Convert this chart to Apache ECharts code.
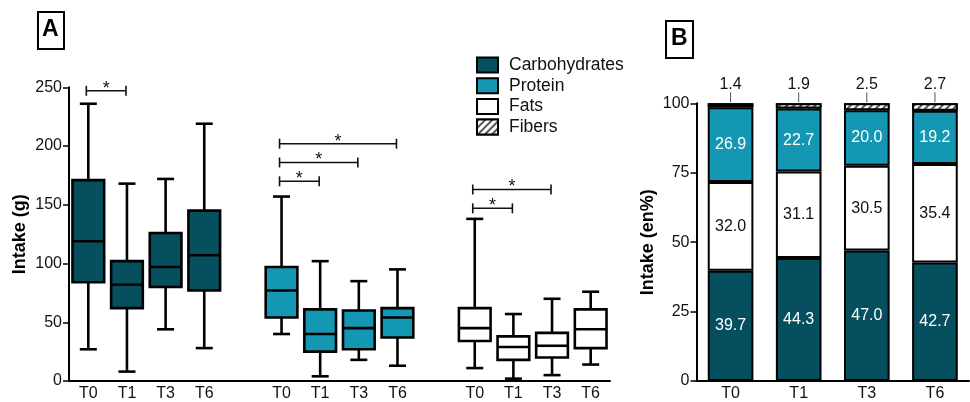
<!DOCTYPE html>
<html><head><meta charset="utf-8">
<script src="https://cdn.jsdelivr.net/npm/echarts@6/dist/echarts.min.js"></script>
<style>html,body{margin:0;padding:0;background:#fff}#c{width:970px;height:402px}</style>
</head><body><div id="c"></div>
<script>
const timepoints = ['T0','T1','T3','T6'];
const nutrients = ['Carbohydrates','Protein','Fats','Fibers'];
// panel A box plots: [min, Q1, median, Q3, max] (g)
const carbsBox   = [[27,84,119,171,236],[8,62,82,102,168],[44,80,97,126,172],[28,77,107,145,219]];
const proteinBox = [[40,54,77,97,157],[4,25,40,61,102],[18,27,45,60,85],[13,37,54,62,95]];
const fatsBox    = [[11,34,45,62,138],[2,18,29,38,57],[5,20,30,41,70],[14,28,44,61,76]];
// significance brackets: [nutrient index, from time index, to time index, height (g)]
const sigBrackets = [[0,0,1,247],[1,0,1,170],[1,0,2,186],[1,0,3,202],[2,0,1,147],[2,0,2,163]];
// panel B energy % (stack order bottom to top: carbs, fats, protein, fibers)
const carbsPct   = [39.7,44.3,47.0,42.7];
const fatsPct    = [32.0,31.1,30.5,35.4];
const proteinPct = [26.9,22.7,20.0,19.2];
const fibersPct  = [1.4,1.9,2.5,2.7];
const yTicksA = [0,50,100,150,200,250];
const yTicksB = [0,25,50,75,100];

const C_CARB = '#064f5f', C_PROT = '#1497b2', C_FAT = '#ffffff';
const FONT = 'Liberation Sans, Arial, sans-serif';

// category axis for panel A: 3 groups of 4 time points separated by one blank slot
const catsA = [];
[0,1,2].forEach(g => { if (g > 0) catsA.push(''); timepoints.forEach(t => catsA.push(t)); });
const catIndex = (g, t) => g * 5 + t;

function boxRender(color) {
  return function (params, api) {
    const i = api.value(0);
    const x = api.coord([i, 0])[0];
    const y = k => api.coord([i, api.value(k)])[1];
    const yMin = y(1), yQ1 = y(2), yMed = y(3), yQ3 = y(4), yMax = y(5);
    const bw = api.size([1, 0])[0] * 0.82;
    const cw = 17;
    const ls = { stroke: '#000', lineWidth: 2.6 };
    return { type: 'group', children: [
      { type: 'line', shape: { x1: x, y1: yMax, x2: x, y2: yQ3 }, style: ls },
      { type: 'line', shape: { x1: x, y1: yQ1, x2: x, y2: yMin }, style: ls },
      { type: 'line', shape: { x1: x - cw/2, y1: yMax, x2: x + cw/2, y2: yMax }, style: ls },
      { type: 'line', shape: { x1: x - cw/2, y1: yMin, x2: x + cw/2, y2: yMin }, style: ls },
      { type: 'rect', shape: { x: x - bw/2, y: yQ3, width: bw, height: yQ1 - yQ3 }, style: { fill: color, stroke: '#000', lineWidth: 2.6 } },
      { type: 'line', shape: { x1: x - bw/2, y1: yMed, x2: x + bw/2, y2: yMed }, style: ls }
    ]};
  };
}
function boxSeries(name, arr, g, color) {
  return {
    type: 'custom', name: name, xAxisIndex: 0, yAxisIndex: 0,
    data: arr.map((d, t) => [catIndex(g, t)].concat(d)),
    encode: { x: 0, y: [1,2,3,4,5] },
    renderItem: boxRender(color), silent: true
  };
}

const option = {
  animation: false,
  textStyle: { fontFamily: FONT },
  grid: [
    { left: 69, right: 360, top: 87.3, bottom: 17.7 },
    { left: 696.5, right: 1, top: 103.3, bottom: 18.7 }
  ],
  legend: {
    data: nutrients, orient: 'vertical', left: 476, top: 56, padding: 0,
    itemWidth: 21, itemHeight: 15, itemGap: 2.7, icon: 'rect', selectedMode: false,
    textStyle: { fontSize: 17.5, lineHeight: 16, color: '#111', fontFamily: FONT, padding: [0,0,0,6] }
  },
  xAxis: [
    { type: 'category', gridIndex: 0, data: catsA, boundaryGap: true,
      axisLine: { lineStyle: { color: '#000', width: 2 } },
      axisTick: { alignWithLabel: true, interval: 0, length: 5, lineStyle: { color: '#000', width: 1.5 } },
      axisLabel: { interval: 0, fontSize: 16, color: '#111', margin: 5 } },
    { type: 'category', gridIndex: 1, data: timepoints,
      axisLine: { lineStyle: { color: '#000', width: 2 } },
      axisTick: { show: false },
      axisLabel: { fontSize: 16, color: '#111', margin: 5 } }
  ],
  yAxis: [
    { type: 'value', gridIndex: 0, min: yTicksA[0], max: yTicksA[yTicksA.length-1], interval: 50,
      name: 'Intake (g)', nameLocation: 'middle', nameGap: 40, nameRotate: 90, nameMoveOverlap: false,
      nameTextStyle: { fontSize: 18, fontWeight: 'bold', color: '#000' },
      axisLine: { show: true, lineStyle: { color: '#000', width: 2 } },
      axisTick: { show: true, length: 6, lineStyle: { color: '#000', width: 1.5 } },
      axisLabel: { fontSize: 16, color: '#111', margin: 7 },
      splitLine: { show: false } },
    { type: 'value', gridIndex: 1, min: yTicksB[0], max: yTicksB[yTicksB.length-1], interval: 25,
      name: 'Intake (en%)', nameLocation: 'middle', nameGap: 39, nameRotate: 90, nameMoveOverlap: false,
      nameTextStyle: { fontSize: 18, fontWeight: 'bold', color: '#000' },
      axisLine: { show: true, lineStyle: { color: '#000', width: 2 } },
      axisTick: { show: true, length: 6, lineStyle: { color: '#000', width: 1.5 } },
      axisLabel: { fontSize: 16, color: '#111', margin: 7 },
      splitLine: { show: false } }
  ],
  graphic: [
    { type: 'rect', left: 37, top: 11, shape: { width: 26, height: 37 }, style: { fill: '#fff', stroke: '#000', lineWidth: 2 } },
    { type: 'text', left: 42, top: 18, style: { text: 'A', font: 'bold 23px ' + FONT, fill: '#000' } },
    { type: 'rect', left: 665, top: 20, shape: { width: 27, height: 37 }, style: { fill: '#fff', stroke: '#000', lineWidth: 2 } },
    { type: 'text', left: 671, top: 27, style: { text: 'B', font: 'bold 23px ' + FONT, fill: '#000' } }
  ],
  series: [
    boxSeries('Carbohydrates (g)', carbsBox, 0, C_CARB),
    boxSeries('Protein (g)', proteinBox, 1, C_PROT),
    boxSeries('Fats (g)', fatsBox, 2, C_FAT),
    { type: 'custom', name: 'significance', xAxisIndex: 0, yAxisIndex: 0, silent: true,
      data: sigBrackets.map(b => [catIndex(b[0], b[1]), catIndex(b[0], b[2]), b[3]]),
      encode: { x: [0,1], y: 2 },
      renderItem: function (params, api) {
        const p1 = api.coord([api.value(0), api.value(2)]);
        const p2 = api.coord([api.value(1), api.value(2)]);
        const x1 = p1[0] - 2, x2 = p2[0] - 1, y = p1[1];
        const ls = { stroke: '#111', lineWidth: 1.6 };
        return { type: 'group', children: [
          { type: 'line', shape: { x1: x1, y1: y, x2: x2, y2: y }, style: ls },
          { type: 'line', shape: { x1: x1, y1: y - 5, x2: x1, y2: y + 5 }, style: ls },
          { type: 'line', shape: { x1: x2, y1: y - 5, x2: x2, y2: y + 5 }, style: ls },
          { type: 'text', style: { text: '*', x: (x1 + x2) / 2, y: y + 7, align: 'center', verticalAlign: 'bottom', font: '18px ' + FONT, fill: '#111' } }
        ]};
      } },
    { type: 'bar', name: 'Carbohydrates', xAxisIndex: 1, yAxisIndex: 1, stack: 'en', data: carbsPct, barWidth: '67%',
      itemStyle: { color: C_CARB, borderColor: '#000', borderWidth: 2 },
      label: { show: true, position: 'inside', fontSize: 16, color: '#fff', formatter: p => p.value.toFixed(1) } },
    { type: 'bar', name: 'Fats', xAxisIndex: 1, yAxisIndex: 1, stack: 'en', data: fatsPct,
      itemStyle: { color: C_FAT, borderColor: '#000', borderWidth: 2 },
      label: { show: true, position: 'inside', fontSize: 16, color: '#111', formatter: p => p.value.toFixed(1) } },
    { type: 'bar', name: 'Protein', xAxisIndex: 1, yAxisIndex: 1, stack: 'en', data: proteinPct,
      itemStyle: { color: C_PROT, borderColor: '#000', borderWidth: 2 },
      label: { show: true, position: 'inside', fontSize: 16, color: '#fff', formatter: p => p.value.toFixed(1) } },
    { type: 'bar', name: 'Fibers', xAxisIndex: 1, yAxisIndex: 1, stack: 'en', data: fibersPct,
      itemStyle: { color: '#fff', borderColor: '#000', borderWidth: 2,
        decal: { symbol: 'rect', symbolSize: 1, dashArrayX: [1, 0], dashArrayY: [1.2, 2.5], rotation: -Math.PI / 4, color: '#555', backgroundColor: '#fff' } },
      label: { show: true, position: 'top', distance: 11, fontSize: 16, color: '#111', formatter: p => p.value.toFixed(1) } },
    { type: 'custom', name: 'fiber leaders', xAxisIndex: 1, yAxisIndex: 1, silent: true,
      data: fibersPct.map((v, i) => [i, 100]),
      encode: { x: 0, y: 1 },
      renderItem: function (params, api) {
        const p = api.coord([api.value(0), api.value(1)]);
        return { type: 'line', shape: { x1: p[0], y1: p[1] - 1, x2: p[0], y2: p[1] - 11 }, style: { stroke: '#555', lineWidth: 1 } };
      } }
  ]
};
const chart = echarts.init(document.getElementById('c'), null, { renderer: 'canvas' });
chart.setOption(option);
</script></body></html>
